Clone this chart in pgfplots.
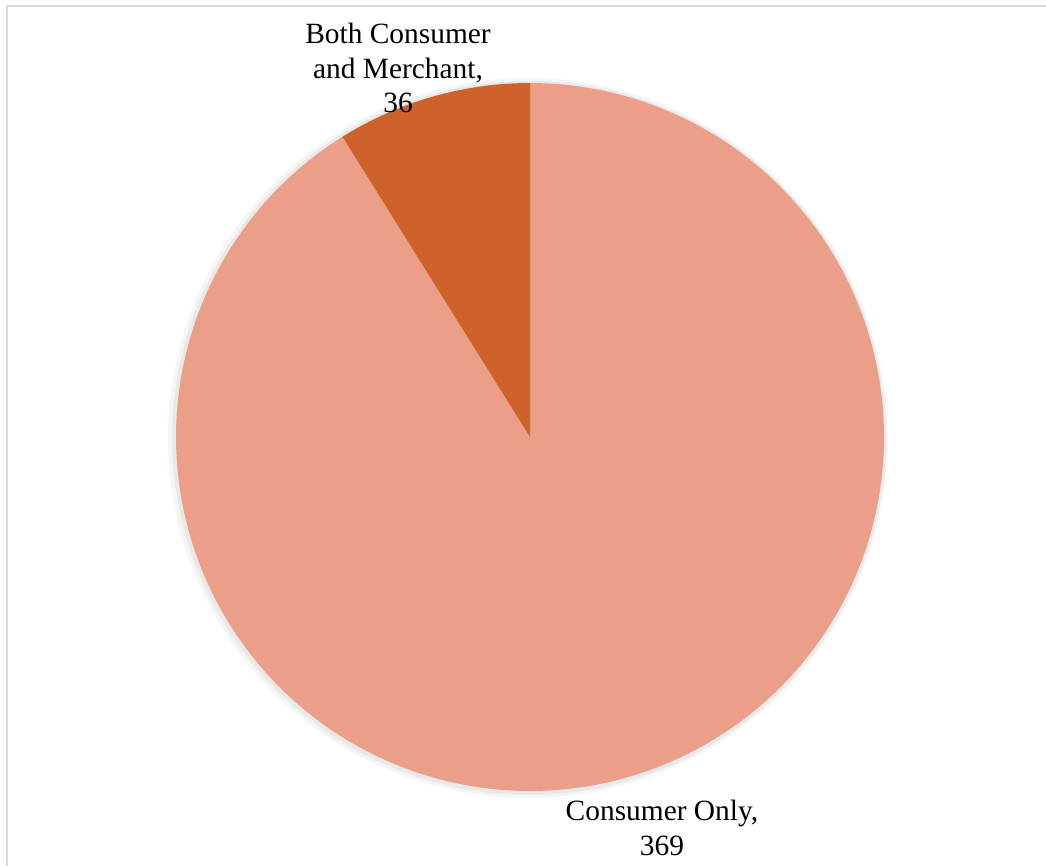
\documentclass[border=0pt]{standalone}
\usepackage{fontspec}
\setmainfont{Liberation Serif}
\usepackage{pgfplots}
\usepackage{pgfplotstable}
\pgfplotsset{compat=1.18}
\definecolor{lightslice}{HTML}{EC9F88}
\definecolor{darkslice}{HTML}{CF612B}
\definecolor{framegray}{HTML}{D9D9D9}
\pgfplotstableread{
label value
Consumer 369
Both 36
}\piedata
\begin{document}
\begin{tikzpicture}
\pgfplotstablegetelem{0}{value}\of\piedata \let\vCons\pgfplotsretval
\pgfplotstablegetelem{1}{value}\of\piedata \let\vBoth\pgfplotsretval
\pgfmathsetmacro{\total}{\vCons+\vBoth}
\pgfmathsetmacro{\aBoth}{90+360*\vBoth/\total}
\begin{axis}[
  scale only axis, width=15cm, height=12.419cm,
  xmin=0, xmax=1046, ymin=0, ymax=866,
  hide axis, clip=false,
]
\path[use as bounding box] (axis cs:0,0) rectangle (axis cs:1046,866);
% frame
\addplot[framegray, line width=0.8pt] coordinates {(7,0) (7,860) (1046,860)};
% soft shadow
\addplot[draw=none, fill=black, fill opacity=0.04, domain=0:360, samples=200, variable=\t]
  ({528+360*cos(t)},{428+360*sin(t)}) -- cycle;
\addplot[draw=none, fill=black, fill opacity=0.05, domain=0:360, samples=200, variable=\t]
  ({529+357*cos(t)},{428+357*sin(t)}) -- cycle;
% Consumer Only slice
\addplot[draw=none, fill=lightslice, domain=\aBoth:450, samples=240, variable=\t]
  ({530+354*cos(t)},{429+354*sin(t)}) -- (axis cs:530,429) -- cycle;
% Both slice
\addplot[draw=none, fill=darkslice, domain=90:\aBoth, samples=40, variable=\t]
  ({530+354*cos(t)},{429+354*sin(t)}) -- (axis cs:530,429) -- cycle;
\node[align=center, font=\fontsize{12}{14.2}\selectfont, inner sep=0pt] at (axis cs:398,798)
  {Both Consumer\\and Merchant,\\36};
\node[align=center, font=\fontsize{12}{14.2}\selectfont, inner sep=0pt] at (axis cs:662,38)
  {Consumer Only,\\369};
\end{axis}
\end{tikzpicture}
\end{document}
